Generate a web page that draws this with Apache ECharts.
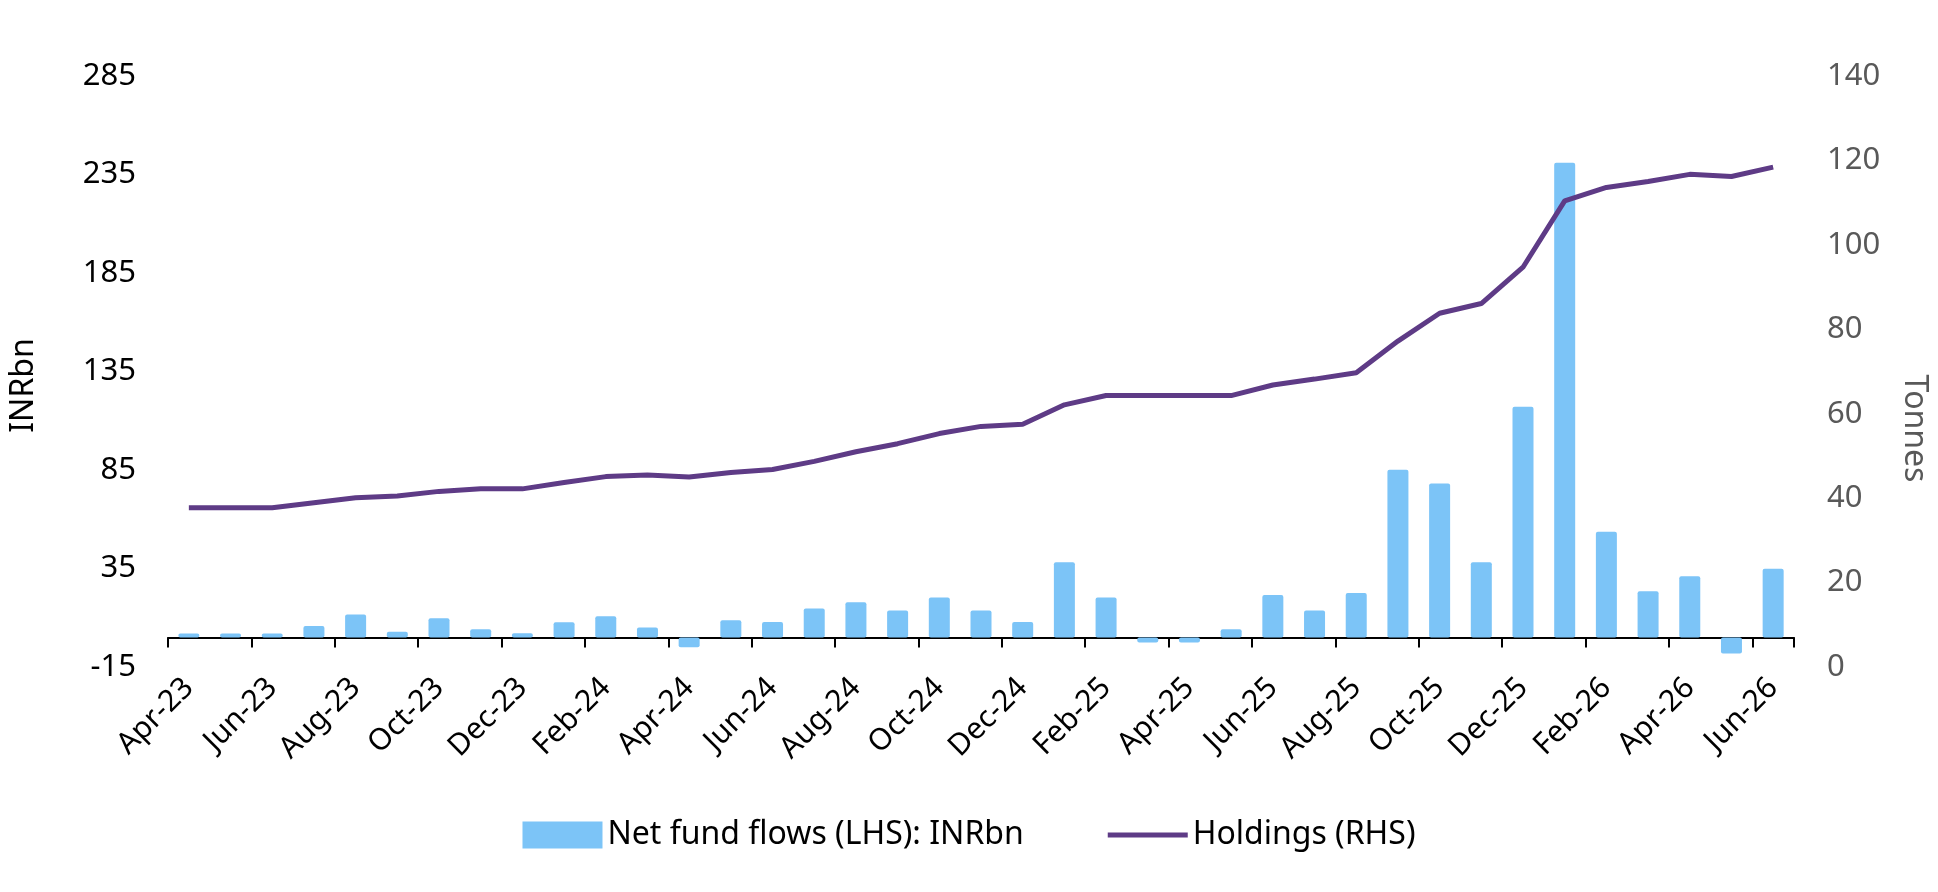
<!DOCTYPE html>
<html>
<head>
<meta charset="utf-8">
<script src="https://cdn.jsdelivr.net/npm/echarts@6/dist/echarts.min.js"></script>
<style>
  html, body { margin: 0; padding: 0; background: #fff; }
  #container { width: 1938px; height: 892px; }
</style>
</head>
<body>
<div id="container"></div>
<script>
// months on the x axis
var months = ['Apr-23','May-23','Jun-23','Jul-23','Aug-23','Sep-23','Oct-23','Nov-23','Dec-23',
  'Jan-24','Feb-24','Mar-24','Apr-24','May-24','Jun-24','Jul-24','Aug-24','Sep-24','Oct-24','Nov-24','Dec-24',
  'Jan-25','Feb-25','Mar-25','Apr-25','May-25','Jun-25','Jul-25','Aug-25','Sep-25','Oct-25','Nov-25','Dec-25',
  'Jan-26','Feb-26','Mar-26','Apr-26','May-26','Jun-26'];

// net fund flows, INRbn (LHS)
var netFlows = [2, 2, 2, 5.8, 11.6, 2.9, 9.8, 4.2, 2.1,
  7.7, 10.8, 5, -5, 8.7, 7.9, 14.7, 17.9, 13.7, 20.3, 13.7, 7.9,
  38.2, 20.3, -2.5, -2.5, 4.2, 21.6, 13.7, 22.6, 85.1, 78.1, 38.2, 117.1,
  241, 53.6, 23.5, 31.1, -8.1, 34.9];

// holdings, tonnes (RHS)
var holdings = [37.7, 37.7, 37.7, 38.9, 40.1, 40.5, 41.6, 42.2, 42.2,
  43.7, 45.1, 45.5, 45.0, 46.1, 46.8, 48.7, 51.0, 52.9, 55.3, 57.0, 57.5,
  62.1, 64.3, 64.3, 64.3, 64.3, 66.8, 68.2, 69.7, 77.2, 83.8, 86.1, 94.7,
  110.4, 113.6, 115.0, 116.7, 116.2, 118.4];

var lhsMin = -15, lhsMax = 285, lhsStep = 50;
var rhsMin = 0, rhsMax = 140, rhsStep = 20;

var dom = document.getElementById('container');
var myChart = echarts.init(dom);
var font = 'Noto Sans';
var barColor = '#7cc4f7';
var lineColor = '#5e3b86';

var option = {
  backgroundColor: '#ffffff',
  animation: false,
  textStyle: { fontFamily: font },
  grid: {
    left: 164,
    right: 142,
    top: 76,
    bottom: 225,
    containLabel: false
  },
  legend: {
    left: 'center',
    top: 814,
    itemWidth: 80,
    itemHeight: 27,
    itemGap: 84,
    textStyle: { fontFamily: font, fontSize: 32, color: '#000' },
    data: [
      { name: 'Net fund flows (LHS): INRbn', icon: 'rect' },
      // plain line icon, no marker
      { name: 'Holdings (RHS)', icon: 'path://M0,0 H80 V5 H0 Z', itemStyle: { color: lineColor } }
    ]
  },
  xAxis: {
    type: 'category',
    data: months,
    boundaryGap: true,
    axisLine: { onZero: true, onZeroAxisIndex: 0, lineStyle: { color: '#000', width: 2 } },
    axisTick: { show: true, interval: 1, length: 10, lineStyle: { color: '#000', width: 2 } },
    axisLabel: {
      interval: 1,
      rotate: 45,
      margin: 16,
      fontFamily: font,
      fontSize: 30,
      color: '#000'
    },
    splitLine: { show: false }
  },
  yAxis: [
    {
      type: 'value',
      min: lhsMin,
      max: lhsMax,
      interval: lhsStep,
      name: 'INRbn',
      nameLocation: 'middle',
      nameRotate: 90,
      nameGap: 128,
      nameTextStyle: { fontFamily: font, fontSize: 32, color: '#000', padding: [0, 28, 0, 0] },
      axisLine: { show: false },
      axisTick: { show: false },
      splitLine: { show: false },
      axisLabel: { margin: 32, fontFamily: font, fontSize: 31, color: '#000' }
    },
    {
      type: 'value',
      min: rhsMin,
      max: rhsMax,
      interval: rhsStep,
      position: 'right',
      name: 'Tonnes',
      nameLocation: 'middle',
      nameRotate: -90,
      nameGap: 104,
      nameTextStyle: { fontFamily: font, fontSize: 32, color: '#595959', padding: [0, 0, 0, 114] },
      axisLine: { show: false },
      axisTick: { show: false },
      splitLine: { show: false },
      axisLabel: { margin: 33, fontFamily: font, fontSize: 31, color: '#595959' }
    }
  ],
  series: [
    {
      name: 'Net fund flows (LHS): INRbn',
      type: 'bar',
      yAxisIndex: 0,
      data: netFlows,
      barWidth: 21,
      itemStyle: { color: barColor, borderRadius: 2 }
    },
    {
      name: 'Holdings (RHS)',
      type: 'line',
      yAxisIndex: 1,
      data: holdings,
      symbol: 'none',
      lineStyle: { color: lineColor, width: 5 },
      itemStyle: { color: lineColor },
      z: 3
    }
  ]
};

myChart.setOption(option);
</script>
</body>
</html>
